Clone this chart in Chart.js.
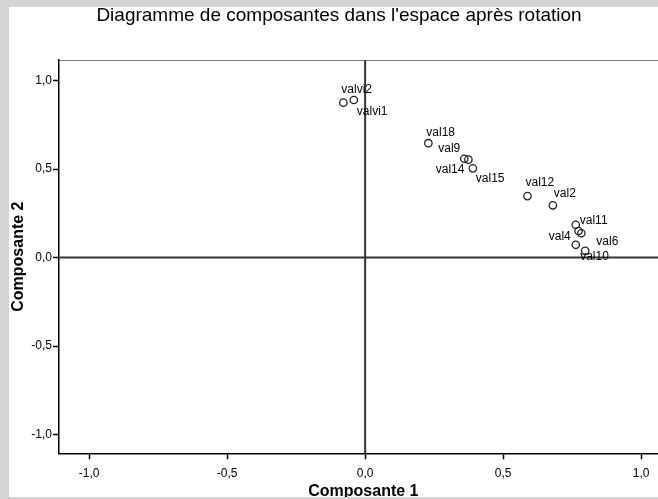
<!DOCTYPE html>
<html>
<head>
<meta charset="utf-8">
<script src="https://cdn.jsdelivr.net/npm/chart.js@4.4.1/dist/chart.umd.min.js"></script>
<style>
  html, body { margin: 0; padding: 0; background: #d4d4d4; overflow: hidden; width: 658px; height: 499px; }
  #wrap { position: absolute; left: 9px; top: 7px; width: 664px; height: 490px; background: #fff; }
</style>
</head>
<body>
<div id="wrap"><canvas id="graphe"></canvas></div>
<script>
// composantes apres rotation
const noms = ['valvi2', 'valvi1', 'val18', 'val9', 'val14', 'val15', 'val12', 'val2', 'val11', '', 'val6', 'val4', 'val10']
const composante1 = [-0.079, -0.041, 0.229, 0.359, 0.374, 0.390, 0.588, 0.680, 0.763, 0.773, 0.783, 0.763, 0.797]
const composante2 = [0.875, 0.890, 0.646, 0.558, 0.553, 0.504, 0.347, 0.295, 0.185, 0.150, 0.137, 0.072, 0.038]
const graduations = [-1, -0.5, 0, 0.5, 1]
const titre = "Diagramme de composantes dans l'espace après rotation"

// ou poser chaque etiquette par rapport a son point (dx, dy, alignement)
const decalages = [
    [-2, -13, 'left'], [3, 12, 'left'], [-2, -11, 'left'], [-26, -10, 'left'],
    [-4, 10, 'right'], [3, 10, 'left'], [-2, -13, 'left'], [1, -12, 'left'],
    [4, -4, 'left'], null, [15, 8, 'left'], [-5, -8, 'right'], [-5, 6, 'left']
]

const police = "'Liberation Sans', Arial, sans-serif"

function virgule(v) {
    return Number(v).toFixed(1).replace('.', ',')
}

const etiquettes = {
    id: 'etiquettes',
    beforeDatasetsDraw(chart) {
        const c = chart.ctx, a = chart.chartArea
        const x = chart.scales.x, y = chart.scales.y
        c.save()
        // titre
        c.font = '19px ' + police
        c.fillStyle = '#000'
        c.textAlign = 'center'
        c.textBaseline = 'middle'
        c.fillText(titre, chart.width / 2 - 2, 9)
        // bord du haut, gris
        c.strokeStyle = '#808080'
        c.lineWidth = 1
        c.beginPath()
        c.moveTo(a.left, a.top + 0.5)
        c.lineTo(a.right, a.top + 0.5)
        c.stroke()
        // axes a zero
        c.strokeStyle = '#333'
        c.lineWidth = 2
        c.beginPath()
        c.moveTo(a.left, y.getPixelForValue(0))
        c.lineTo(a.right, y.getPixelForValue(0))
        c.moveTo(x.getPixelForValue(0), a.top)
        c.lineTo(x.getPixelForValue(0), a.bottom)
        c.stroke()
        c.restore()
    },
    afterDatasetsDraw(chart) {
        const c = chart.ctx
        const pts = chart.getDatasetMeta(0).data
        c.save()
        c.font = '12px ' + police
        c.fillStyle = '#000'
        c.textBaseline = 'middle'
        pts.forEach((p, i) => {
            const d = decalages[i]
            if (!d || !noms[i]) return
            c.textAlign = d[2]
            c.fillText(noms[i], p.x + d[0], p.y + d[1])
        })
        c.restore()
    }
}

const axe = (t) => ({
    type: 'linear',
    border: { display: true, color: '#000', width: 1.5 },
    grid: { display: true, drawOnChartArea: false, drawTicks: true, tickLength: 6, tickColor: '#000', tickWidth: 1.5 },
    afterBuildTicks: s => { s.ticks = graduations.map(v => ({ value: v })) },
    ticks: { color: '#000', font: { size: 12, family: police }, callback: v => virgule(v) },
    title: { display: true, text: t, color: '#000', font: { size: 16, weight: 'bold', family: police } }
})

const ax = axe('Composante 1')
ax.position = 'bottom'
ax.min = -1.109
ax.max = 1.096
ax.ticks.padding = 7
ax.ticks.maxRotation = 0
ax.title.padding = { top: 0, bottom: -4 }
ax.afterFit = s => { s.height = 43.7; s.paddingLeft = 0; s.paddingRight = 0 }

const ay = axe('Composante 2')
ay.position = 'left'
ay.min = -1.106
ay.max = 1.116
ay.ticks.padding = 1
ay.title.padding = { top: 0, bottom: 0 }
ay.afterFit = s => { s.width = 50; s.paddingTop = 0; s.paddingBottom = 0 }

const graphe = new Chart(document.getElementById('graphe'), {
    type: 'scatter',
    data: {
        datasets: [{
            label: 'composantes',
            data: composante1.map((v, i) => ({ x: v, y: composante2[i] })),
            pointStyle: 'circle',
            pointRadius: 3.7,
            pointBorderWidth: 1.3,
            pointBorderColor: '#222',
            pointBackgroundColor: 'rgba(0,0,0,0)'
        }]
    },
    options: {
        responsive: true,
        maintainAspectRatio: false,
        animation: false,
        layout: { padding: { top: 53, left: 0, right: 0, bottom: 0 } },
        plugins: {
            legend: { display: false },
            tooltip: { enabled: false },
            title: { display: false }
        },
        scales: { x: ax, y: ay }
    },
    plugins: [etiquettes]
})
</script>
</body>
</html>
